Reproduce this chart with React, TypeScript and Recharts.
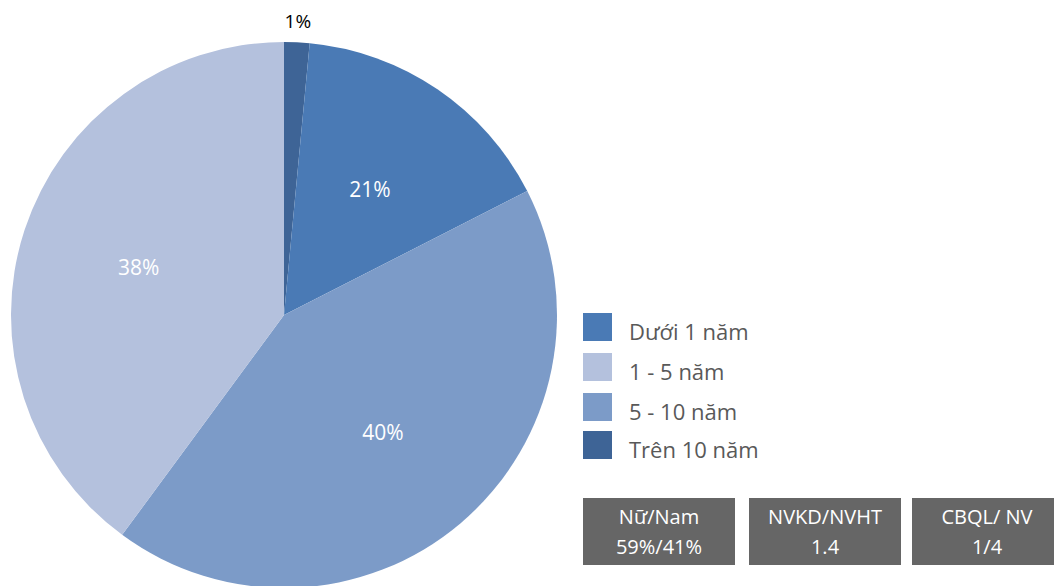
import { PieChart, Pie, Cell } from 'recharts';

// Slice order as drawn, clockwise from 12 o'clock
const CATEGORIES = ['Trên 10 năm', 'Dưới 1 năm', '5 - 10 năm', '1 - 5 năm'];
// Slice sizes
const VALUES = [1.5, 16, 42.6, 39.9];
// Percent labels as printed on the chart
const LABELS = ['1%', '21%', '40%', '38%'];
const COLORS = ['#3e6496', '#4a7ab5', '#7c9bc8', '#b4c1dd'];

// Legend shows categories in this order
const LEGEND_ORDER = ['Dưới 1 năm', '1 - 5 năm', '5 - 10 năm', 'Trên 10 năm'];

const STAT_TITLES = ['Nữ/Nam', 'NVKD/NVHT', 'CBQL/ NV'];
const STAT_VALUES = ['59%/41%', '1.4', '1/4'];

const FONT = '"Open Sans", "Noto Sans", sans-serif';
const RADIAN = Math.PI / 180;

const data = CATEGORIES.map((name, i) => ({ name, value: VALUES[i], label: LABELS[i] }));

const renderLabel = (props: any) => {
  const { cx, cy, midAngle, outerRadius, index } = props;
  const outside = VALUES[index] < 5;
  const r = outside ? outerRadius + 21 : outerRadius * 0.56;
  const x = cx + r * Math.cos(-midAngle * RADIAN);
  const y = cy + r * Math.sin(-midAngle * RADIAN);
  return (
    <text
      x={x}
      y={y}
      fill={outside ? '#000000' : '#ffffff'}
      textAnchor="middle"
      dominantBaseline="central"
      fontSize={outside ? 19 : 21}
      fontFamily={FONT}
    >
      {LABELS[index]}
    </text>
  );
};

export default function App() {
  return (
    <div
      style={{
        position: 'absolute',
        left: 0,
        top: 0,
        width: 1054,
        height: 586,
        overflow: 'hidden',
        background: '#ffffff',
        fontFamily: FONT,
      }}
    >
      <PieChart width={1054} height={586} margin={{ top: 0, right: 0, bottom: 0, left: 0 }}>
        <Pie
          data={data}
          dataKey="value"
          nameKey="name"
          cx={284}
          cy={315}
          outerRadius={273}
          startAngle={90}
          endAngle={-270}
          stroke="none"
          labelLine={false}
          label={renderLabel}
          isAnimationActive={false}
        >
          {data.map((entry, index) => (
            <Cell key={`cell-${index}`} fill={COLORS[index]} />
          ))}
        </Pie>
      </PieChart>

      {/* legend */}
      <div style={{ position: 'absolute', left: 583, top: 313 }}>
        {LEGEND_ORDER.map((name, i) => {
          const idx = CATEGORIES.indexOf(name);
          return (
            <div
              key={name}
              style={{ display: 'flex', alignItems: 'center', height: 28, marginBottom: i === 2 ? 10 : 12 }}
            >
              <div style={{ width: 29, height: 28, background: COLORS[idx] }} />
              <span
                style={{
                  marginLeft: 17,
                  fontSize: 22,
                  color: '#595959',
                  lineHeight: '28px',
                  position: 'relative',
                  top: 4,
                }}
              >
                {name}
              </span>
            </div>
          );
        })}
      </div>

      {/* stat boxes */}
      {STAT_TITLES.map((title, i) => (
        <div
          key={title}
          style={{
            position: 'absolute',
            left: [583, 749, 912][i],
            top: 498,
            width: i === 2 ? 150 : 152,
            height: 67,
            background: '#666666',
            color: '#ffffff',
            fontSize: 20,
            lineHeight: '30px',
            textAlign: 'center',
            display: 'flex',
            flexDirection: 'column',
            justifyContent: 'center',
          }}
        >
          <div>{title}</div>
          <div>{STAT_VALUES[i]}</div>
        </div>
      ))}
    </div>
  );
}
